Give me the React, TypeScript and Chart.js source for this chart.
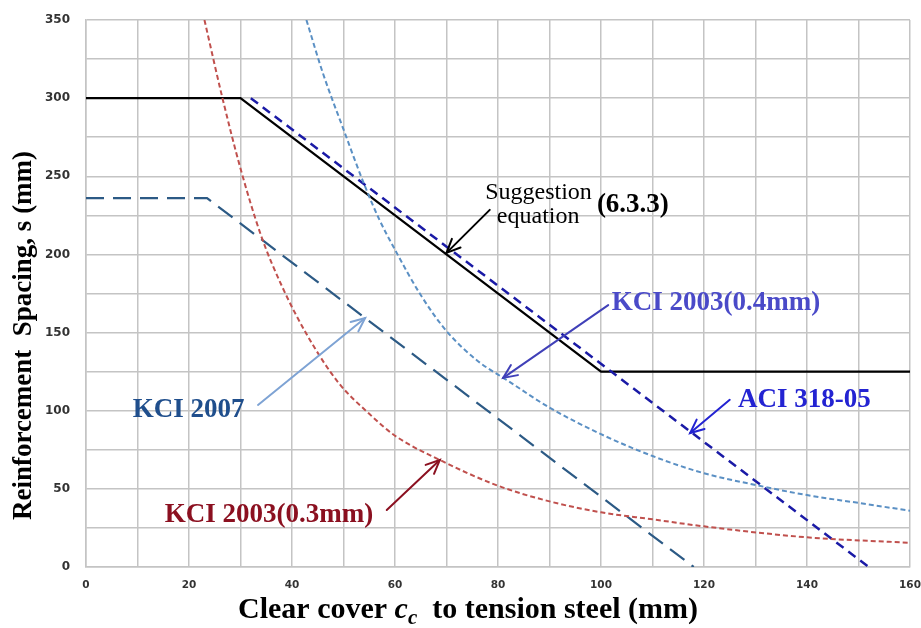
import React, { useEffect, useRef } from "react";
import { Chart, registerables } from "chart.js";
Chart.register(...registerables);

// ---- data ----
const suggestionX = [0, 30, 100, 160];
const suggestionY = [300, 300, 125, 125];
const aciX = [32, 152];
const aciY = [300, 0];
const kci2007X = [0, 23.5, 118];
const kci2007Y = [236, 236, 0];
const kci04X = [42.8, 46, 50, 54, 57, 60, 65, 70, 76, 82, 90, 100, 110, 120, 130, 140, 150, 160];
const kci04Y = [350, 316, 280, 245, 222, 203, 174, 151, 132, 119, 102, 85, 71, 60, 52.5, 46, 41, 36];
const kci03X = [23, 26.5, 30, 34, 38, 43, 49, 55, 60, 69, 80, 90, 100, 110, 120, 140, 160];
const kci03Y = [350, 300, 255, 212, 180, 148, 118, 98, 84, 68, 52, 42, 35, 30.5, 26, 19, 15.5];
const xTickLabels = [0, 20, 40, 60, 80, 100, 120, 140, 160];
const yTickLabels = [0, 50, 100, 150, 200, 250, 300, 350];

const pts = (xs: number[], ys: number[]) => xs.map((x, i) => ({ x, y: ys[i] }));

const SERIF = '"Liberation Serif", "Times New Roman", serif';

function arrow(ctx: CanvasRenderingContext2D, x1: number, y1: number, x2: number, y2: number, color: string, w: number) {
  ctx.save();
  ctx.strokeStyle = color;
  ctx.lineWidth = w;
  ctx.setLineDash([]);
  ctx.lineCap = "round";
  ctx.beginPath();
  ctx.moveTo(x1, y1);
  ctx.lineTo(x2, y2);
  ctx.stroke();
  const a = Math.atan2(y2 - y1, x2 - x1);
  const L = 15, ang = 0.42;
  ctx.beginPath();
  ctx.moveTo(x2 - L * Math.cos(a - ang), y2 - L * Math.sin(a - ang));
  ctx.lineTo(x2, y2);
  ctx.lineTo(x2 - L * Math.cos(a + ang), y2 - L * Math.sin(a + ang));
  ctx.stroke();
  ctx.restore();
}

export default function App() {
  const ref = useRef<HTMLCanvasElement>(null);
  useEffect(() => {
    const canvas = ref.current!;
    // annotations: text anchored in data coordinates
    const labels = [
      { t: "Suggestion", x: 77.5, y: 239.5, font: `24px ${SERIF}`, c: "#000", align: "left" },
      { t: "equation", x: 87.8, y: 224, font: `24px ${SERIF}`, c: "#000", align: "center" },
      { t: "(6.3.3)", x: 99.2, y: 231.6, font: `bold 27px ${SERIF}`, c: "#000", align: "left" },
      { t: "KCI 2003(0.4mm)", x: 102.1, y: 169, font: `bold 27px ${SERIF}`, c: "#4a4ac8", align: "left" },
      { t: "ACI 318-05", x: 126.6, y: 107, font: `bold 27px ${SERIF}`, c: "#2323d2", align: "left" },
      { t: "KCI 2007", x: 9.1, y: 100.5, font: `bold 27px ${SERIF}`, c: "#1f4e8c", align: "left" },
      { t: "KCI 2003(0.3mm)", x: 15.3, y: 33.3, font: `bold 27px ${SERIF}`, c: "#8b1020", align: "left" },
    ];
    const arrows = [
      { x1: 78.4, y1: 228.5, x2: 70, y2: 201, c: "#000" },
      { x1: 101.4, y1: 167.6, x2: 81, y2: 121, c: "#4040b8" },
      { x1: 125, y1: 107, x2: 117.3, y2: 85.7, c: "#2323d2" },
      { x1: 33.4, y1: 103.7, x2: 54.2, y2: 159.3, c: "#7ea3d4" },
      { x1: 58.4, y1: 36.5, x2: 68.7, y2: 68.5, c: "#8b1020" },
    ];
    const annot = {
      id: "annot",
      afterDraw(chart: any) {
        const ctx: CanvasRenderingContext2D = chart.ctx;
        const xs = chart.scales.x, ys = chart.scales.y;
        const px = (v: number) => xs.getPixelForValue(v);
        const py = (v: number) => ys.getPixelForValue(v);
        for (const a of arrows) arrow(ctx, px(a.x1), py(a.y1), px(a.x2), py(a.y2), a.c, 2);
        ctx.save();
        ctx.textBaseline = "middle";
        for (const l of labels) {
          ctx.font = l.font;
          ctx.fillStyle = l.c;
          ctx.textAlign = l.align as CanvasTextAlign;
          ctx.fillText(l.t, px(l.x), py(l.y));
        }
        ctx.restore();
        // y axis title
        ctx.save();
        ctx.translate(31, (chart.chartArea.top + chart.chartArea.bottom) / 2 + 42);
        ctx.rotate(-Math.PI / 2);
        ctx.font = `bold 27px ${SERIF}`;
        ctx.fillStyle = "#000";
        ctx.textAlign = "center";
        ctx.textBaseline = "alphabetic";
        ctx.fillText("Reinforcement  Spacing, s (mm)", 0, 0);
        ctx.restore();
        // x axis title with italic c_c
        ctx.save();
        ctx.fillStyle = "#000";
        ctx.textBaseline = "alphabetic";
        ctx.textAlign = "left";
        const fB = `bold 30px ${SERIF}`;
        const fI = `italic bold 30px ${SERIF}`;
        const fS = `italic bold 21px ${SERIF}`;
        const parts = [
          { t: "Clear cover ", f: fB, dy: 0 },
          { t: "c", f: fI, dy: 0 },
          { t: "c", f: fS, dy: 6 },
          { t: "  to tension steel (mm)", f: fB, dy: 0 },
        ];
        let total = 0;
        const widths = parts.map((p) => { ctx.font = p.f; const w = ctx.measureText(p.t).width; total += w; return w; });
        const cx = (chart.chartArea.left + chart.chartArea.right) / 2 - 30;
        let x = cx - total / 2;
        const base = chart.chartArea.bottom + 51;
        parts.forEach((p, i) => { ctx.font = p.f; ctx.fillText(p.t, x, base + p.dy); x += widths[i]; });
        ctx.restore();
      },
    };
    const grid = { color: "#c4c4c4", lineWidth: 1.5, drawTicks: false };
    const yTickFont = { family: '"DejaVu Sans", sans-serif', weight: "bold" as const, size: 12 };
    const xTickFont = { family: '"DejaVu Sans", sans-serif', weight: "bold" as const, size: 10.5 };
    const chart = new Chart(canvas, {
      type: "scatter",
      data: {
        datasets: [
          { label: "KCI 2003(0.3mm)", data: pts(kci03X, kci03Y), showLine: true, borderColor: "#c0504d", borderWidth: 2, borderDash: [5, 3], pointRadius: 0, cubicInterpolationMode: "monotone" },
          { label: "KCI 2003(0.4mm)", data: pts(kci04X, kci04Y), showLine: true, borderColor: "#5b90c4", borderWidth: 2, borderDash: [5, 3], pointRadius: 0, cubicInterpolationMode: "monotone" },
          { label: "KCI 2007", data: pts(kci2007X, kci2007Y), showLine: true, borderColor: "#2c5a85", borderWidth: 2.2, borderDash: [18, 9], pointRadius: 0 },
          { label: "ACI 318-05", data: pts(aciX, aciY), showLine: true, borderColor: "#1a1aa6", borderWidth: 2.5, borderDash: [9, 6], pointRadius: 0 },
          { label: "Suggestion", data: pts(suggestionX, suggestionY), showLine: true, borderColor: "#000", borderWidth: 2.2, pointRadius: 0 },
        ],
      },
      options: {
        responsive: false,
        animation: false,
        layout: { padding: { left: 0, right: 11, top: 20, bottom: 0 } },
        plugins: { legend: { display: false }, tooltip: { enabled: false } },
        scales: {
          x: {
            type: "linear", min: 0, max: 160,
            grid, border: { display: true, color: "#c4c4c4", width: 1.5 },
            afterFit: (s: any) => { s.height = 61; s.paddingLeft = 0; s.paddingRight = 0; },
            ticks: { stepSize: 10, padding: 12, color: "#333", font: xTickFont, maxRotation: 0,
              callback: (v: any) => (xTickLabels.includes(Number(v)) ? String(v) : "") },
          },
          y: {
            type: "linear", min: 0, max: 350,
            grid, border: { display: true, color: "#c4c4c4", width: 1.5 },
            afterFit: (s: any) => { s.width = 86; s.paddingTop = 0; s.paddingBottom = 0; },
            ticks: { stepSize: 25, padding: 16, color: "#333", font: yTickFont,
              callback: (v: any) => (yTickLabels.includes(Number(v)) ? String(v) : "") },
          },
        },
      },
      plugins: [annot],
    } as any);
    return () => chart.destroy();
  }, []);
  return (
    <div style={{ position: "absolute", left: 0, top: 0, width: 921, height: 628, background: "#fff" }}>
      <canvas ref={ref} width={921} height={628} />
    </div>
  );
}
